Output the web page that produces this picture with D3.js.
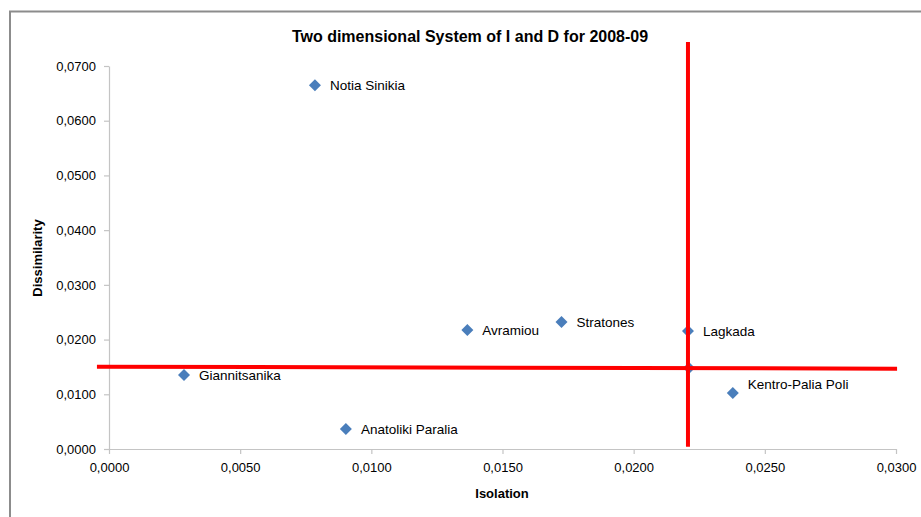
<!DOCTYPE html>
<html>
<head>
<meta charset="utf-8">
<script src="https://cdn.jsdelivr.net/npm/d3@7"></script>
<style>
  html, body { margin: 0; padding: 0; background: #fff; }
  svg { display: block; }
  text { font-family: "Liberation Sans", Arial, sans-serif; fill: #000; }
</style>
</head>
<body>
<svg id="chart" width="921" height="517"></svg>
<script>
// ---- data ----
const names = ["Notia Sinikia", "Avramiou", "Stratones", "Lagkada", "Giannitsanika", "Anatoliki Paralia", "Kentro-Palia Poli"];
const isolation = [0.00785, 0.01366, 0.01725, 0.02207, 0.00286, 0.00903, 0.02378];
const dissimilarity = [0.0665, 0.02175, 0.0232, 0.02157, 0.01353, 0.00366, 0.01024];
// unlabeled mean point (under the crossing red lines)
const meanIsolation = [0.02211];
const meanDissimilarity = [0.0148];
// red reference lines (data coordinates)
const vLineX = [0.02207, 0.02207];
const vLineY = [0.0744, 0.0004];
const hLineX = [-0.00046, 0.03004];
const hLineY = [0.01504, 0.01469];
const xTicks = [0, 0.005, 0.01, 0.015, 0.02, 0.025, 0.03];
const yTicks = [0, 0.01, 0.02, 0.03, 0.04, 0.05, 0.06, 0.07];
const title = "Two dimensional  System of I and D for 2008-09";
const xTitle = "Isolation";
const yTitle = "Dissimilarity";

(function () {
const svg = d3.select("#chart");
const W = 921, H = 517;
const mLeft = 109, mRight = 896, mTop = 66, mBottom = 449;

// frame
svg.append("path")
  .attr("d", `M10,${H} L10,11.5 L${W},11.5`)
  .attr("fill", "none").attr("stroke", "#8c8c8c").attr("stroke-width", 2);

const x = d3.scaleLinear().domain([0, 0.03]).range([mLeft, mRight]);
const y = d3.scaleLinear().domain([0, 0.07]).range([mBottom, mTop]);
const fmt = d => d.toFixed(4).replace(".", ",");

// axes
const xAxis = svg.append("g").attr("transform", `translate(0,${mBottom})`)
  .call(d3.axisBottom(x).tickValues(xTicks).tickFormat(fmt).tickSize(5).tickSizeOuter(0).tickPadding(9));
const yAxis = svg.append("g").attr("transform", `translate(${mLeft},0)`)
  .call(d3.axisLeft(y).tickValues(yTicks).tickFormat(fmt).tickSize(5).tickSizeOuter(0).tickPadding(8));
[xAxis, yAxis].forEach(g => {
  g.selectAll("path, line").attr("stroke", "#c4c4c4").attr("stroke-width", 1.2);
  g.selectAll("text").attr("font-family", "Liberation Sans, Arial, sans-serif")
    .attr("font-size", 13).attr("fill", "#262626");
});

// titles
svg.append("text").attr("x", 470).attr("y", 42).attr("text-anchor", "middle")
  .attr("font-size", 16).attr("font-weight", "bold").text(title);
svg.append("text").attr("x", 502).attr("y", 498).attr("text-anchor", "middle")
  .attr("font-size", 13).attr("font-weight", "bold").text(xTitle);
svg.append("text").attr("transform", `translate(42,258) rotate(-90)`).attr("text-anchor", "middle")
  .attr("font-size", 13).attr("font-weight", "bold").text(yTitle);

const diamond = d3.symbol().type(d3.symbolSquare).size(72);
const pts = names.map((n, i) => ({ name: n, xv: isolation[i], yv: dissimilarity[i] }));

// points
svg.append("g").selectAll("path").data(pts).join("path")
  .attr("d", diamond)
  .attr("transform", d => `translate(${x(d.xv)},${y(d.yv)}) rotate(45)`)
  .attr("fill", "#4A7EBB");
svg.append("g").selectAll("path").data(meanIsolation).join("path")
  .attr("d", diamond)
  .attr("transform", (d, i) => `translate(${x(d)},${y(meanDissimilarity[i])}) rotate(45)`)
  .attr("fill", "#4A7EBB");

// labels
svg.append("g").selectAll("text").data(pts).join("text")
  .attr("x", d => x(d.xv) + 15)
  .attr("y", d => y(d.yv) + (d.name === "Kentro-Palia Poli" ? -9 : 0))
  .attr("dy", "0.35em")
  .attr("font-size", 13.5).attr("fill", "#262626")
  .text(d => d.name);

// red lines
const line = d3.line().x(d => x(d[0])).y(d => y(d[1]));
svg.append("path").datum(hLineX.map((v, i) => [v, hLineY[i]]))
  .attr("d", line).attr("stroke", "#FF0000").attr("stroke-width", 4).attr("fill", "none");
svg.append("path").datum(vLineX.map((v, i) => [v, vLineY[i]]))
  .attr("d", line).attr("stroke", "#FF0000").attr("stroke-width", 4).attr("fill", "none");
})();
</script>
</body>
</html>
